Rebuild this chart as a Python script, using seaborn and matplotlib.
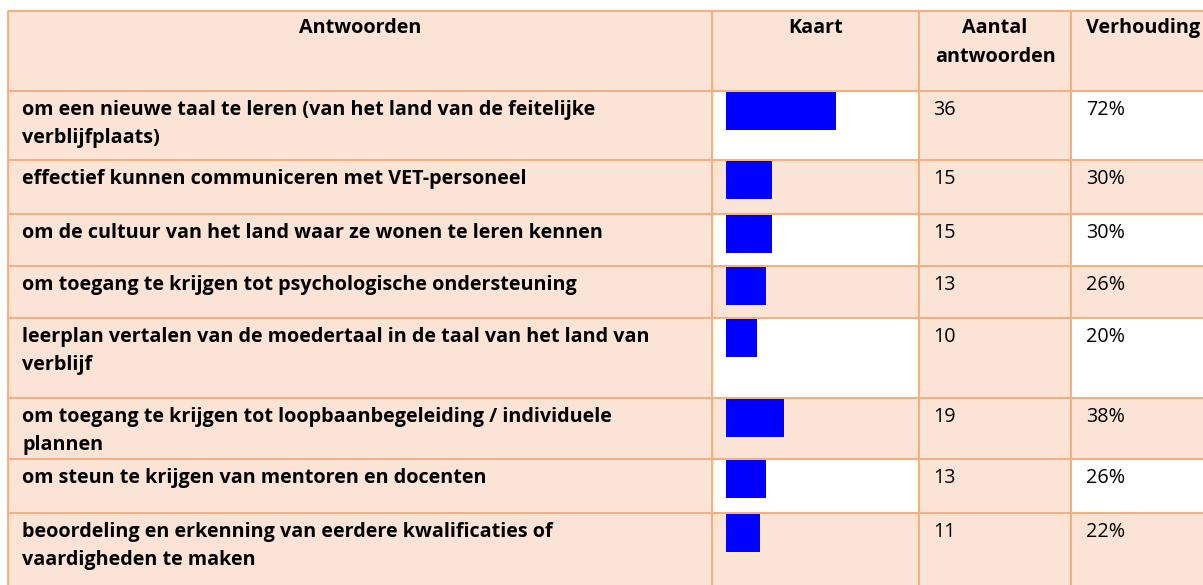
import numpy as np
import pandas as pd
import matplotlib.pyplot as plt
import seaborn as sns
from matplotlib.patches import Rectangle

antwoorden = [
    "om een nieuwe taal te leren (van het land van de feitelijke\nverblijfplaats)",
    "effectief kunnen communiceren met VET-personeel",
    "om de cultuur van het land waar ze wonen te leren kennen",
    "om toegang te krijgen tot psychologische ondersteuning",
    "leerplan vertalen van de moedertaal in de taal van het land van\nverblijf",
    "om toegang te krijgen tot loopbaanbegeleiding / individuele\nplannen",
    "om steun te krijgen van mentoren en docenten",
    "beoordeling en erkenning van eerdere kwalificaties of\nvaardigheden te maken",
]
aantal = [36, 15, 15, 13, 10, 19, 13, 11]
verhouding = [72, 30, 30, 26, 20, 38, 26, 22]
headers = ["Antwoorden", "Kaart", "Aantal\nantwoorden", "Verhouding"]

W, H = 1203, 585
peach = '#FBE4D5'
border = '#F4B083'
blue = '#0000FF'

col_x = [8, 712, 919, 1071, 1215]
row_h = [80, 69, 54, 52, 52, 80, 61, 54, 80]
row_y = np.concatenate([[11], 11 + np.cumsum(row_h)])

sns.set_style('white')
plt.rcParams['font.family'] = ['Open Sans', 'DejaVu Sans']
fs = 14.2

fig = plt.figure(figsize=(W / 100, H / 100), dpi=100)
ax = fig.add_axes([0, 0, 1, 1])
ax.set_xlim(0, W)
ax.set_ylim(H, 0)
ax.axis('off')

# cell backgrounds
for r in range(len(row_h)):
    for c in range(4):
        white = r > 0 and r % 2 == 1 and c in (1, 3)
        ax.add_patch(Rectangle((col_x[c], row_y[r]), col_x[c + 1] - col_x[c], row_h[r],
                               facecolor='white' if white else peach, edgecolor='none'))

# grid lines
for y in row_y:
    ax.plot([col_x[0], col_x[-1]], [y, y], color=border, lw=1.5, solid_capstyle='butt')
for x in col_x[:-1]:
    ax.plot([x, x], [row_y[0], row_y[-1]], color=border, lw=1.5, solid_capstyle='butt')

# header
hdr_x = [(col_x[0] + col_x[1]) / 2, (col_x[1] + col_x[2]) / 2, (col_x[2] + col_x[3]) / 2, 1086]
hdr_ha = ['center', 'center', 'center', 'left']
for h, x, ha in zip(headers, hdr_x, hdr_ha):
    for i, line in enumerate(h.split('\n')):
        ax.text(x, row_y[0] + 22 + 29 * i, line, ha=ha, va='baseline',
                fontsize=fs, fontweight='bold', color='black')

# body text
for r, (lab, n, p) in enumerate(zip(antwoorden, aantal, verhouding)):
    top = row_y[r + 1]
    for i, line in enumerate(lab.split('\n')):
        ax.text(22, top + 24 + 28 * i, line, ha='left', va='baseline',
                fontsize=fs, fontweight='bold', color='black')
    ax.text(933, top + 24, str(n), ha='left', va='baseline', fontsize=fs, color='black')
    ax.text(1086, top + 24, f"{p}%", ha='left', va='baseline', fontsize=fs, color='black')

# bars in the Kaart column
px_per_pct = 1.53
ax_bar = fig.add_axes([col_x[1] / W, 0, (col_x[2] - col_x[1]) / W, 1])
ax_bar.patch.set_alpha(0)
bar_h = 38
centers = row_y[1:-1] + 1 + bar_h / 2
df = pd.DataFrame({'pct': verhouding, 'pos': centers})
min_gap = np.min(np.diff(np.unique(centers)))
sns.barplot(data=df, x='pct', y='pos', orient='h', native_scale=True,
            width=bar_h / min_gap, color=blue, saturation=1, linewidth=0, ax=ax_bar)
ax_bar.set_xlim(-14 / px_per_pct, (col_x[2] - col_x[1] - 14) / px_per_pct)
ax_bar.set_ylim(H, 0)
ax_bar.axis('off')

fig.savefig('out.png', dpi=100)
